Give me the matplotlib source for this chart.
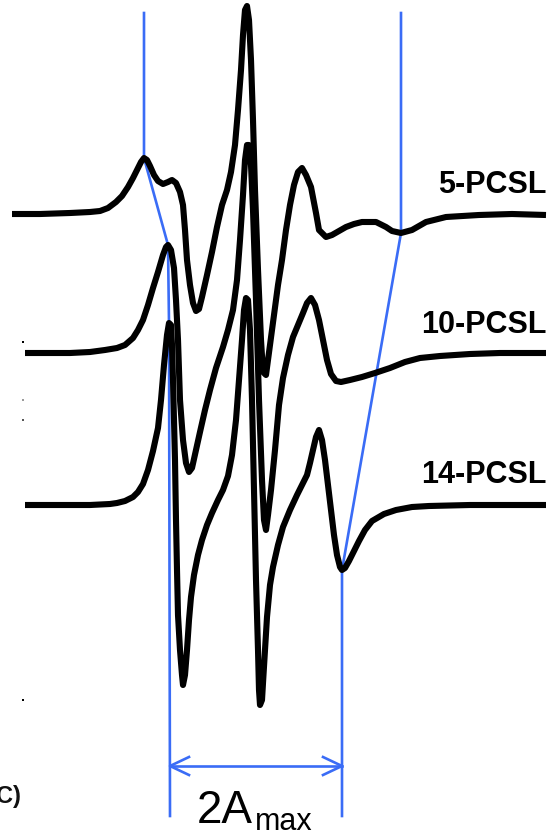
import matplotlib
matplotlib.use("Agg")
import matplotlib.pyplot as plt
import numpy as np

# ---- EPR first-derivative spectra (field axis in arbitrary units, signal relative to baseline) ----
field_5 = [12, 40, 70, 90, 100, 108, 116, 122, 128, 133, 137, 141, 144, 147, 150, 154, 158, 163, 168, 172,
           176, 180, 183, 185, 187, 190, 193, 196, 199, 202, 207, 212, 217, 222, 227, 231, 235, 238, 241, 243,
           245, 247, 249, 251, 253, 255, 258, 261, 263, 266, 270, 274, 278, 282, 286, 290, 294, 298, 302, 306,
           311, 316, 319, 326, 332, 339, 346, 354, 362, 369, 376, 386, 392, 401, 412, 426, 446, 479, 512, 546]
signal_5 = [0, 0, 1, 2, 3, 6, 12, 18, 27, 36, 44, 52, 56, 54, 48, 39, 33, 30, 32, 34,
            31, 22, 9, -16, -46, -71, -89, -97, -95, -83, -61, -38, -13, 9, 24, 42, 69, 104, 144, 179,
            204, 208, 194, 154, 94, 24, -56, -126, -158, -161, -131, -101, -71, -46, -16, 9, 29, 42, 46, 39,
            27, 1, -16, -23, -21, -17, -13, -10, -8, -8, -8, -13, -17, -19, -16, -8, -3, -1, 0, -1]

field_10 = [25, 50, 70, 90, 105, 117, 125, 133, 138, 143, 148, 153, 158, 163, 166, 168, 171, 174, 176, 178,
            180, 183, 186, 189, 192, 196, 200, 205, 210, 216, 223, 228, 233, 237, 240, 243, 245, 247, 249, 251,
            253, 256, 259, 262, 264, 266, 268, 271, 275, 279, 283, 288, 293, 298, 303, 307, 311, 315, 319, 323,
            327, 331, 336, 341, 350, 362, 375, 390, 405, 420, 440, 470, 500, 546]
signal_10 = [0, 0, 0, 1, 3, 5, 8, 15, 23, 33, 48, 65, 81, 98, 106, 108, 103, 85, 53, 13,
             -47, -87, -110, -119, -115, -97, -79, -57, -37, -15, 6, 23, 43, 73, 113, 158, 193, 208, 208, 188,
             143, 53, -47, -127, -167, -177, -162, -137, -97, -52, -25, -2, 16, 28, 40, 50, 55, 48, 33, 13,
             -7, -21, -28, -29, -27, -24, -20, -15, -9, -5, -3, -1, 0, 0]

field_14 = [25, 60, 90, 110, 117, 125, 133, 138, 143, 148, 153, 158, 161, 164, 167, 169, 171, 172, 173, 174,
            175, 176, 177, 178, 180, 182, 183, 185, 187, 189, 191, 194, 198, 202, 207, 212, 218, 223, 228, 232,
            236, 239, 242, 244, 246, 248, 250, 252, 254, 256, 258, 259, 260, 262, 263, 265, 267, 270, 273, 278,
            283, 290, 297, 302, 307, 310, 313, 316, 319, 322, 325, 328, 331, 334, 337, 340, 342, 345, 349, 354,
            359, 365, 372, 384, 396, 412, 429, 470, 546]
signal_14 = [0, 0, 0, 1, 2, 4, 8, 13, 21, 35, 54, 77, 105, 140, 170, 182, 180, 160, 125, 85,
             45, -15, -65, -110, -145, -170, -180, -170, -145, -115, -92, -70, -50, -35, -20, -8, 5, 15, 29, 50,
             85, 125, 165, 195, 207, 205, 175, 105, 15, -75, -145, -185, -200, -195, -178, -145, -112, -80, -62, -40,
             -22, -5, 10, 20, 30, 42, 55, 68, 75, 65, 45, 20, -5, -30, -50, -62, -65, -63, -56, -46,
             -36, -25, -16, -9, -5, -2, -1, 0, 0]

labels = ["5-PCSL", "10-PCSL", "14-PCSL"]

# ---- layout ----
W, H = 558, 836
offsets = [214, 353, 505]          # vertical stacking of the spectra (from top)
label_baselines = [193, 333, 483]
guide_top, guide_bottom, arrow_y = 13, 816, 766
blue = "#3a6cf6"

fig = plt.figure(figsize=(W / 100, H / 100), dpi=100)
ax = fig.add_axes([0, 0, 1, 1])
ax.set_xlim(0, W)
ax.set_ylim(-H, 0)
ax.axis("off")

spectra = [(field_5, signal_5), (field_10, signal_10), (field_14, signal_14)]
for (f, s), off, lab, lb in zip(spectra, offsets, labels, label_baselines):
    f = np.asarray(f, float)
    s = np.asarray(s, float)
    ax.plot(f, s - off, color="black", lw=4.4, solid_joinstyle="round",
            solid_capstyle="butt", zorder=3)
    ax.text(547, -lb, lab, ha="right", va="baseline", fontsize=22,
            fontweight="bold", family="Liberation Sans", zorder=4)

# low-field maxima (outer peak) and high-field minima (outer trough)
def low_peak(f, s):
    f = np.asarray(f, float); s = np.asarray(s, float)
    m = f < 180
    i = np.argmax(np.where(m, s, -np.inf))
    return f[i], s[i]

def high_trough(f, s, fmin):
    f = np.asarray(f, float); s = np.asarray(s, float)
    m = f > fmin
    i = np.argmin(np.where(m, s, np.inf))
    return f[i], s[i]

lp = [low_peak(f, s) for f, s in spectra]
lp = [(x, y - off) for (x, y), off in zip(lp, offsets)]
ht5 = high_trough(field_5, signal_5, 380)
ht14 = high_trough(field_14, signal_14, 330)
ht5 = (ht5[0], ht5[1] - offsets[0])
ht14 = (ht14[0], ht14[1] - offsets[2])

left_x = [lp[0][0], lp[0][0], lp[1][0], lp[2][0], lp[2][0] + 1]
left_y = [-guide_top, lp[0][1], lp[1][1], lp[2][1], -guide_bottom]
ax.plot(left_x, left_y, color=blue, lw=1.9, zorder=2)

right_x = [ht5[0], ht5[0], ht14[0], ht14[0]]
right_y = [-guide_top, ht5[1], ht14[1], -guide_bottom]
ax.plot(right_x, right_y, color=blue, lw=1.9, zorder=2)

# double-headed 2A_max arrow with open heads
xa, xb = left_x[-1], right_x[-1]
ax.plot([xa, xb], [-arrow_y, -arrow_y], color=blue, lw=1.9)
hl, hw = 19, 9
ax.plot([xa + hl, xa, xa + hl], [-arrow_y + hw, -arrow_y, -arrow_y - hw], color=blue, lw=1.9)
ax.plot([xb - hl, xb, xb - hl], [-arrow_y + hw, -arrow_y, -arrow_y - hw], color=blue, lw=1.9)

ax.text(197, -823, "2A", ha="left", va="baseline", fontsize=33, family="Liberation Sans")
ax.text(255, -830, "max", ha="left", va="baseline", fontsize=22, family="Liberation Sans")

# panel tag partly cut at the left edge
ax.text(21, -803, "C)", ha="right", va="baseline", fontsize=17, fontweight="bold",
        family="Liberation Sans", color="#111111")

# small tick remnants along the left edge
for ty, c in [(342, "black"), (400, "#9a9a9a"), (420, "#555555"), (700, "black")]:
    ax.plot([23], [-ty], marker="s", markersize=2, color=c, markeredgewidth=0)

fig.savefig("out.png", dpi=100)
